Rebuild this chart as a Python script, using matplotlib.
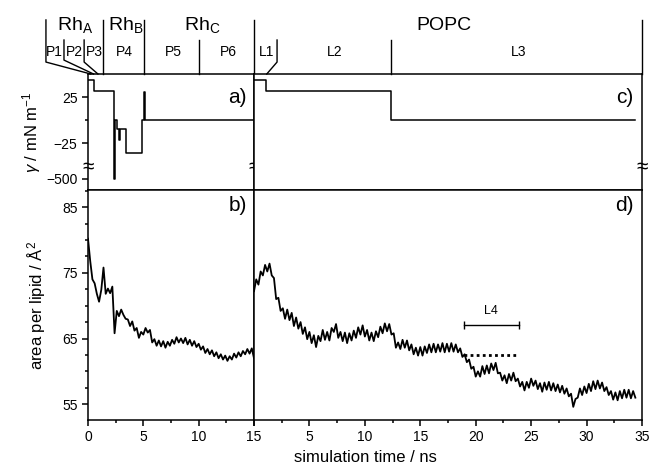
import numpy as np
import matplotlib
matplotlib.use('Agg')
from matplotlib import pyplot as plt
from matplotlib import transforms
from matplotlib.ticker import MultipleLocator

plt.rcParams['font.family'] = ['Liberation Sans', 'DejaVu Sans']
plt.rcParams['mathtext.fontset'] = 'custom'
plt.rcParams['mathtext.rm'] = 'Liberation Sans'
plt.rcParams['mathtext.it'] = 'Liberation Sans:italic'

# surface tension steps (start time of each step, value), rhodopsin run and POPC run
gamma_rh_t = [0, 0.57, 2.38, 2.45, 2.6, 2.8, 2.88, 3.4, 4.88, 5.09, 5.13, 15]
gamma_rh = [44, 31.5, -500, 0, -10, -21, -10, -35, 0, 31, 0, 0]
gamma_popc_t = [0, 1.1, 12.4, 34.4]
gamma_popc = [44, 31.5, 0, 0]

# area per lipid, sampled every 0.2 ns
dt = 0.2
area_rh = [80.2, 76.8, 74.0, 73.4, 71.8, 70.6, 72.4, 75.8, 71.8, 72.6,
           71.9, 72.9, 65.8, 69.2, 68.4, 69.4, 68.6, 68.0, 67.9, 66.9,
           67.6, 66.2, 66.6, 65.1, 66.0, 65.6, 66.6, 65.9, 66.3, 64.4,
           64.9, 63.9, 64.7, 63.8, 64.6, 63.6, 64.5, 63.9, 64.8, 64.2,
           65.2, 64.4, 65.0, 64.3, 65.1, 64.1, 64.8, 63.9, 64.6, 63.7,
           64.2, 63.3, 63.8, 62.8, 63.4, 62.6, 63.2, 62.3, 62.9, 62.0,
           62.6, 61.8, 62.4, 61.6, 62.3, 61.8, 62.7, 62.1, 62.9, 62.3,
           63.1, 62.6, 63.4, 62.7, 63.5, 62.0]
area_popc = [72.2, 74.0, 73.2, 75.2, 74.6, 76.2, 75.2, 76.4, 74.6, 74.2,
             71.0, 71.2, 69.2, 69.6, 68.0, 69.4, 67.8, 68.9, 66.9, 68.2,
             66.5, 67.5, 65.7, 66.7, 64.9, 66.0, 64.3, 65.5, 63.7, 65.4,
             64.6, 66.3, 64.8, 66.0, 64.7, 66.6, 66.0, 67.2, 65.1, 66.0,
             64.6, 65.9, 64.3, 65.8, 64.7, 66.2, 65.1, 66.7, 65.6, 67.0,
             65.3, 66.3, 64.7, 65.9, 64.6, 66.1, 65.2, 66.8, 65.8, 67.3,
             66.1, 67.2, 65.6, 65.8, 63.6, 64.4, 63.4, 64.8, 63.6, 64.7,
             63.2, 64.1, 62.6, 63.6, 62.4, 63.7, 62.4, 63.8, 62.8, 64.1,
             62.9, 64.2, 62.9, 64.1, 63.0, 64.3, 62.9, 64.2, 63.0, 64.3,
             63.0, 64.1, 62.9, 63.5, 62.2, 62.6, 61.4, 61.8, 60.4, 60.7,
             59.2, 60.0, 59.2, 60.8, 59.6, 60.9, 59.7, 61.2, 60.2, 61.3,
             59.7, 59.8, 58.6, 59.4, 58.2, 59.6, 58.6, 59.8, 58.5, 58.9,
             57.7, 58.4, 57.1, 58.4, 57.5, 58.9, 57.8, 58.6, 57.3, 58.2,
             56.9, 58.3, 57.2, 58.4, 57.1, 58.2, 57.0, 58.0, 56.8, 57.8,
             56.6, 57.4, 56.2, 56.6, 54.6, 55.8, 56.0, 57.4, 56.4, 57.7,
             56.7, 58.1, 57.0, 58.5, 57.3, 58.6, 57.4, 58.3, 57.0, 57.6,
             56.4, 57.0, 55.7, 56.8, 55.6, 57.0, 55.9, 57.2, 56.0, 57.2,
             55.9, 57.0, 56.0]
l4_start, l4_end, l4_level = 18.9, 23.9, 62.5

# phase boundaries in the header
rh_bounds = [1.4, 5.1, 15]
p_bounds = [10]
rh_labels = [(-1.17, 'A'), (3.45, 'B'), (10.3, 'C')]
p_labels = [(-3.0, 'P1'), (-1.26, 'P2'), (0.6, 'P3'), (3.25, 'P4'), (7.72, 'P5'), (12.65, 'P6')]
l_labels = [(1.1, 'L1'), (7.3, 'L2'), (23.9, 'L3')]

# broken gamma axis: everything below -40 is squeezed
k = 0.0513


def gamma_fwd(y):
    y = np.asarray(y, dtype=float)
    return np.where(y >= -40, y, -40 + (y + 40) * k)


def gamma_inv(y):
    y = np.asarray(y, dtype=float)
    return np.where(y >= -40, y, -40 + (y + 40) / k)


fig = plt.figure(figsize=(6.53, 4.75), dpi=100)
x0, xm, x1 = 88 / 653, 254 / 653, 642 / 653
ax_a = fig.add_axes([x0, 0.6, xm - x0, 0.2442])
ax_c = fig.add_axes([xm, 0.6, x1 - xm, 0.2442])
ax_b = fig.add_axes([x0, 0.1158, xm - x0, 0.4842])
ax_d = fig.add_axes([xm, 0.1158, x1 - xm, 0.4842])

lw = 1.1
for ax in (ax_a, ax_b, ax_c, ax_d):
    for s in ax.spines.values():
        s.set_linewidth(lw)
    ax.tick_params(direction='out', width=lw, length=4, labelsize=10)
    ax.tick_params(which='minor', direction='out', width=lw, length=2.5)

# gamma panels
ax_a.plot(gamma_rh_t, gamma_rh, color='black', lw=1.1, drawstyle='steps-post')
ax_c.plot(gamma_popc_t, gamma_popc, color='black', lw=1.1, drawstyle='steps-post')
for ax in (ax_a, ax_c):
    ax.set_yscale('function', functions=(gamma_fwd, gamma_inv))
    ax.set_ylim(-732, 50)
    ax.tick_params(axis='x', which='both', bottom=False, labelbottom=False)
ax_a.set_xlim(0, 15)
ax_c.set_xlim(0, 35)
ax_a.set_yticks([-500, -25, 25])
ax_a.set_yticklabels(['\u2212500', '\u221225', '25'])
ax_a.set_yticks([0], minor=True)
ax_c.tick_params(axis='y', which='both', left=False, labelleft=False)
ax_a.set_ylabel(r'$\gamma$ / mN m$^{-1}$', fontsize=12, labelpad=2)

# break marks
for ax, xa in ((ax_a, 0), (ax_a, 1), (ax_c, 1)):
    tr = transforms.blended_transform_factory(ax.transAxes, ax.transData)
    ax.text(xa, -240, '\u2248', transform=tr, ha='center', va='center', fontsize=15, clip_on=False)

# area per lipid panels
t_rh = np.arange(len(area_rh)) * dt
t_popc = np.arange(len(area_popc)) * dt
ax_b.plot(t_rh, area_rh, color='black', lw=1.3)
ax_d.plot(t_popc, area_popc, color='black', lw=1.3)
ax_d.plot([l4_start, l4_end], [l4_level, l4_level], color='black', lw=2, linestyle=(0, (1, 1.2)))
ax_d.plot([l4_start, l4_end], [67.1, 67.1], color='black', lw=1)
ax_d.vlines([l4_start, l4_end], 66.5, 67.7, color='black', lw=1)
ax_d.text((l4_start + l4_end) / 2, 68.3, 'L4', ha='center', va='bottom', fontsize=9)

for ax in (ax_b, ax_d):
    ax.set_ylim(52.6, 87.6)
    ax.xaxis.set_minor_locator(MultipleLocator(2.5))
ax_b.set_xlim(0, 15)
ax_d.set_xlim(0, 35)
ax_b.set_xticks([0, 5, 10, 15])
ax_d.set_xticks([0, 5, 10, 15, 20, 25, 30, 35])
ax_d.set_xticklabels(['', '5', '10', '15', '20', '25', '30', '35'])
ax_b.set_yticks([55, 65, 75, 85])
ax_b.yaxis.set_minor_locator(MultipleLocator(2.5))
ax_d.tick_params(axis='y', which='both', left=False, labelleft=False)
ax_b.set_ylabel('area per lipid / \u00c5$^2$', fontsize=12, labelpad=10)
fig.text(0.56, 0.022, 'simulation time / ns', ha='center', va='bottom', fontsize=12)

# panel letters
ax_a.text(0.956, 0.80, 'a)', transform=ax_a.transAxes, ha='right', va='center', fontsize=15)
ax_c.text(0.978, 0.80, 'c)', transform=ax_c.transAxes, ha='right', va='center', fontsize=15)
ax_b.text(0.956, 0.932, 'b)', transform=ax_b.transAxes, ha='right', va='center', fontsize=15)
ax_d.text(0.978, 0.932, 'd)', transform=ax_d.transAxes, ha='right', va='center', fontsize=15)

# header with phases
y_rh, y_p = 1.466, 1.293
tra = transforms.blended_transform_factory(ax_a.transData, ax_a.transAxes)
trc = transforms.blended_transform_factory(ax_c.transData, ax_c.transAxes)
hd = dict(color='black', lw=1, clip_on=False)
ax_a.plot([-3.8, -3.8, 0.25], [y_rh, 1.103, 1.0], transform=tra, **hd)
ax_a.plot([-2.17, -2.17, 0.5], [y_p, 1.12, 1.0], transform=tra, **hd)
ax_a.plot([-0.35, -0.35, 0.9], [y_p, 1.103, 1.0], transform=tra, **hd)
for b in rh_bounds:
    ax_a.plot([b, b], [1.0, y_rh], transform=tra, **hd)
for b in p_bounds:
    ax_a.plot([b, b], [1.0, y_p], transform=tra, **hd)
ax_c.plot([2.08, 2.08, 1.15], [y_p, 1.103, 1.0], transform=trc, **hd)
ax_c.plot([12.4, 12.4], [1.0, y_p], transform=trc, **hd)
ax_c.plot([35, 35], [1.0, y_rh], transform=trc, **hd)

for x, sub in rh_labels:
    ax_a.text(x, 1.379, r'Rh$_\mathregular{%s}$' % sub, transform=tra, ha='center',
              va='baseline', fontsize=14)
for x, s in p_labels:
    ax_a.text(x, 1.155, s, transform=tra, ha='center', va='baseline', fontsize=10)
for x, s in l_labels:
    ax_c.text(x, 1.155, s, transform=trc, ha='center', va='baseline', fontsize=10)
ax_c.text(17.1, 1.379, 'POPC', transform=trc, ha='center', va='baseline', fontsize=14)

fig.savefig('out.png', dpi=100)
